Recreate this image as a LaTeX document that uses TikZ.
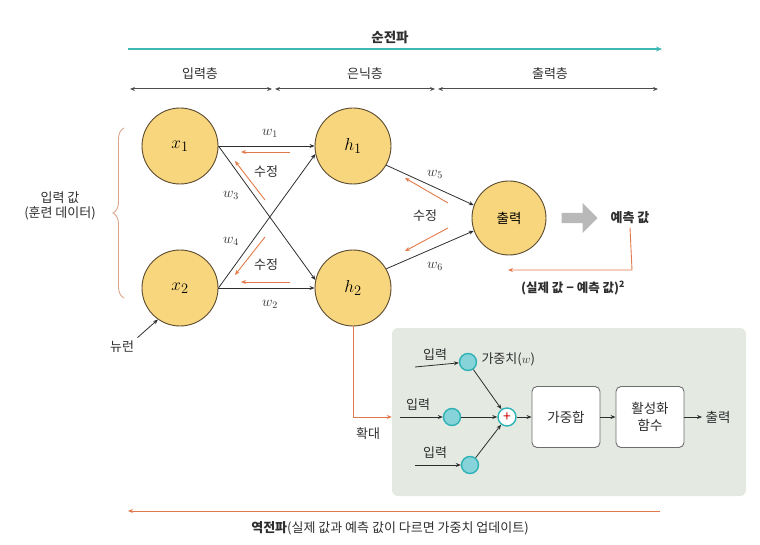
\documentclass[tikz,border=0pt]{standalone}
\usepackage{fontspec}
\setmainfont{Noto Sans CJK KR}
\usetikzlibrary{arrows.meta,decorations.pathreplacing,calc,shapes.arrows}
\definecolor{neufill}{HTML}{F8D67E}
\definecolor{neuedge}{HTML}{5A4A30}
\definecolor{teal}{HTML}{3DB8B2}
\definecolor{orng}{HTML}{E2794A}
\definecolor{boxbg}{HTML}{E4E9E2}
\definecolor{cyfill}{HTML}{86D3DA}
\definecolor{cyedge}{HTML}{2DB3B5}
\definecolor{dk}{HTML}{2E2E2E}
\definecolor{bracec}{HTML}{D9A58A}
\begin{document}
\begin{tikzpicture}[x=1pt,y=-1pt,
  neuron/.style={circle,draw=neuedge,line width=0.9pt,fill=neufill,minimum size=76pt,inner sep=0pt,font=\fontsize{19}{19}\selectfont},
  arr/.style={draw=dk,line width=0.8pt,-{Stealth[length=5pt,width=4pt]}},
  darr/.style={draw=dk!85,line width=1pt,{Stealth[length=5pt,width=4pt]}-{Stealth[length=5pt,width=4pt]}},
  oarr/.style={draw=orng,line width=0.9pt,-{Stealth[length=5pt,width=4pt]}},
  lbl/.style={font=\fontsize{13}{15}\selectfont,text=dk},
  wl/.style={font=\fontsize{14.5}{14}\selectfont,text=dk},
  cyc/.style={circle,draw=cyedge,line width=1.4pt,fill=cyfill,minimum size=17pt,inner sep=0pt},
  blk/.style={draw=dk!70,line width=0.9pt,fill=white,rounded corners=5pt,minimum width=68pt,minimum height=61pt,align=center,font=\fontsize{13.5}{17}\selectfont,text=dk}
]
\useasboundingbox (0,0) rectangle (760,545);
% forward propagation
\node[font=\bfseries\fontsize{13.5}{15}\selectfont,text=dk] (fwd) at (390,37) {순전파};
\coordinate (fa) at (128,49);
\coordinate (fb) at (662,49);
\draw[draw=teal,line width=1.2pt,-{Stealth[length=6pt,width=5pt]}] (fa) -- (fb);
% layers
\node[lbl] (Lin) at (200,74) {입력층};
\node[lbl] (Lhid) at (365,74) {은닉층};
\node[lbl] (Lout) at (550,74) {출력층};
\coordinate (l1) at (130,89); \coordinate (l2) at (272,89);
\coordinate (l3) at (275,89); \coordinate (l4) at (435,89);
\coordinate (l5) at (438,89); \coordinate (l6) at (658,89);
\draw[darr] (l1) -- (l2);
\draw[darr] (l3) -- (l4);
\draw[darr] (l5) -- (l6);
% neurons
\node[neuron] (x1) at (180,146) {$x_1$};
\node[neuron] (x2) at (180,288) {$x_2$};
\node[neuron] (h1) at (353,146) {$h_1$};
\node[neuron] (h2) at (353,288) {$h_2$};
\node[neuron,minimum size=74pt,font=\fontsize{13.5}{15}\selectfont] (out) at (509,218) {출력};
% connections
\draw[arr] (x1.east) -- (h1.west);
\draw[arr] (x2.east) -- (h2.west);
\draw[arr] (x1.east) -- (h2.168);
\draw[arr] (x2.east) -- (h1.192);
\draw[arr] (h1.-30) -- (out.160);
\draw[arr] (h2.30) -- (out.200);
% weight labels
\node[wl] (w1) at (270,133) {$w_1$};
\node[wl] (w2) at (270,304) {$w_2$};
\node[wl] (w3) at (231,195) {$w_3$};
\node[wl] (w4) at (231,241) {$w_4$};
\node[wl] (w5) at (435,174) {$w_5$};
\node[wl] (w6) at (435,266) {$w_6$};
% correction arrows
\coordinate (o1a) at (290,152); \coordinate (o1b) at (241,152);
\coordinate (o2a) at (265,200); \coordinate (o2b) at (235,161);
\coordinate (o3a) at (265,237); \coordinate (o3b) at (235,275);
\coordinate (o4a) at (290,282); \coordinate (o4b) at (241,282);
\coordinate (o5a) at (448,203); \coordinate (o5b) at (405,178);
\coordinate (o6a) at (448,228); \coordinate (o6b) at (405,251);
\draw[oarr] (o1a) -- (o1b);
\draw[oarr] (o2a) -- (o2b);
\draw[oarr] (o3a) -- (o3b);
\draw[oarr] (o4a) -- (o4b);
\draw[oarr] (o5a) -- (o5b);
\draw[oarr] (o6a) -- (o6b);
\node[lbl] (s1) at (266,172) {수정};
\node[lbl] (s2) at (266,265) {수정};
\node[lbl] (s3) at (425,216) {수정};
% input brace
\draw[draw=bracec,line width=0.9pt,decorate,decoration={brace,amplitude=11pt}] (124,298) -- (124,128);
\node[lbl,align=center] (inval) at (60,206) {입력 값\\(훈련 데이터)};
% neuron label
\node[lbl] (neu) at (122,347) {뉴런};
\draw[arr] (neu.north east) -- (x2.235);
% prediction
\node[single arrow,fill=gray!55,draw=none,minimum height=36pt,minimum width=30pt,single arrow head extend=6pt,inner sep=3pt] (ga) at (577,218) {};
\node[font=\bfseries\fontsize{13}{15}\selectfont,text=dk] (pred) at (630,218) {예측 값};
\coordinate (pc) at (632,270);
\coordinate (pe) at (508,270);
\draw[oarr] (pred.south) -- (pc) -- (pe);
\node[font=\bfseries\fontsize{12.5}{15}\selectfont,text=dk] (loss) at (573,288) {(실제 값 − 예측 값)\textsuperscript{2}};
% zoom box
\node[draw=none,fill=boxbg,rounded corners=6pt,minimum width=354pt,minimum height=168pt,inner sep=0pt] (bg) at (569,412) {};
\coordinate (hz) at (353,417);
\draw[draw=orng,line width=0.9pt] (h2.south) -- (hz);
\draw[oarr] (hz) -- (bg.west |- hz);
\node[lbl] (zoomt) at (368,434) {확대};
% inside
\node[cyc] (c1) at (468,362) {};
\node[cyc] (c2) at (452,417) {};
\node[cyc] (c3) at (470,465) {};
\node[circle,draw=cyedge,line width=1.4pt,fill=white,minimum size=18pt,inner sep=0pt,text=red!80!black,font=\fontsize{14}{14}\selectfont] (plus) at (507,417) {+};
\coordinate (i1) at (415,367);
\coordinate (i2) at (400,417);
\coordinate (i3) at (415,465);
\draw[arr] (i1) -- (c1);
\draw[arr] (i2) -- (c2);
\draw[arr] (i3) -- (c3);
\node[lbl] (in1) at (435,355) {입력};
\node[lbl] (in2) at (418,405) {입력};
\node[lbl] (in3) at (435,453) {입력};
\node[lbl,anchor=west] (wt) at (478,359) {가중치($w$)};
\draw[arr] (c1) -- (plus);
\draw[arr] (c2) -- (plus);
\draw[arr] (c3) -- (plus);
\node[blk] (wsum) at (566,417) {가중합};
\node[blk] (act) at (650,417) {활성화\\함수};
\node[lbl,font=\fontsize{13.5}{15}\selectfont] (outt) at (718,417) {출력};
\draw[arr] (plus) -- (wsum);
\draw[arr] (wsum) -- (act);
\draw[arr] (act) -- (outt);
% back propagation
\coordinate (ba) at (660,511);
\coordinate (bb) at (128,511);
\draw[oarr] (ba) -- (bb);
\node[lbl] (bwd) at (390,528) {\textbf{역전파}(실제 값과 예측 값이 다르면 가중치 업데이트)};
\end{tikzpicture}
\end{document}
